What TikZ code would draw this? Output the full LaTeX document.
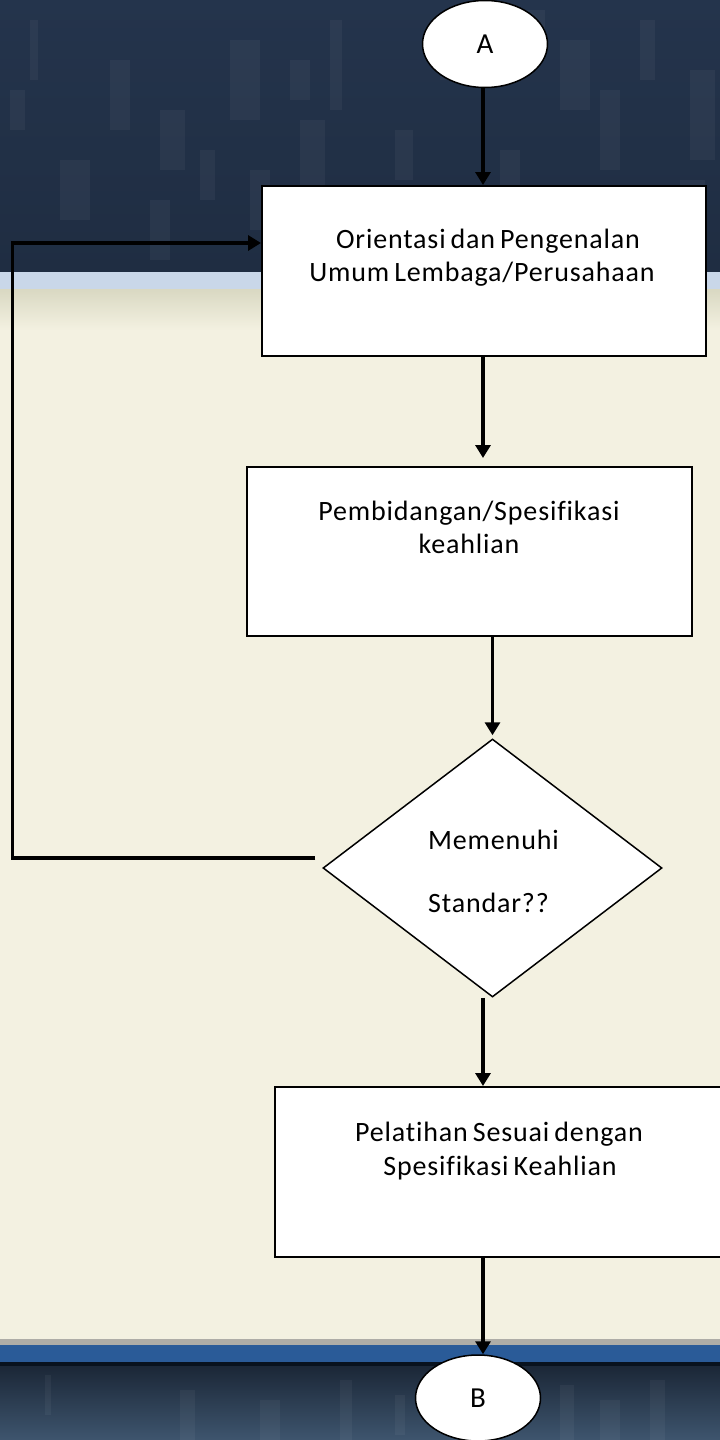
\documentclass[tikz,border=0pt]{standalone}
\usepackage{fontspec}
\setmainfont{Carlito}
\newfontfamily\boxfont{Carlito}[LetterSpace=3,WordSpace=0.7,Ligatures=NoCommon]
\usetikzlibrary{shapes.geometric,arrows.meta}
\definecolor{topdark}{HTML}{24344C}
\definecolor{topdark2}{HTML}{1F2D42}
\definecolor{stripe}{HTML}{C9D7E9}
\definecolor{beige}{HTML}{F3F1E1}
\definecolor{beigedark}{HTML}{D9D8C2}
\definecolor{barblue}{HTML}{2A5B98}
\definecolor{botdark}{HTML}{1B2737}
\definecolor{botlight}{HTML}{3E556E}
\tikzset{
  procbox/.style={draw=black, line width=2pt, fill=white, rectangle, inner sep=0pt},
  decbox/.style={draw=black, line width=1.5pt, fill=white, diamond, inner sep=0pt},
  connbox/.style={draw=black, line width=1.5pt, fill=white, ellipse, inner sep=0pt, font=\fontsize{29}{32}\selectfont},
  lbl/.style={anchor=base, inner sep=0pt, font=\boxfont\fontsize{28}{32}\selectfont},
  arr/.style={line width=3.5pt, -{Triangle[width=15pt,length=13pt]}},
  texture/.style={fill=white, opacity=0.045}
}
\begin{document}
\begin{tikzpicture}[x=1pt,y=-1pt]
\useasboundingbox (0,0) rectangle (720,1440);
\begin{scope}
\clip (0,0) rectangle (720,1440);
% top band
\fill[top color=topdark, bottom color=topdark2] (0,0) rectangle (720,272);
\foreach \x/\y/\w/\h in {30/20/8/60, 110/60/20/70, 160/110/25/60, 230/40/30/80, 290/60/20/40, 330/20/12/90, 395/130/18/50, 520/10/25/50, 560/40/30/70, 600/90/20/80, 640/20/15/60, 690/70/25/90, 60/160/30/60, 150/200/20/60, 200/150/15/50, 250/170/20/60, 300/120/25/90, 420/190/30/60, 500/150/20/40, 680/180/25/70, 10/90/15/40, 440/40/20/40}
  \fill[texture] (\x,\y) rectangle ++(\w,\h);
\fill[stripe] (0,272) rectangle (720,289);
% beige
\fill[top color=beigedark, bottom color=beige] (0,289) rectangle (720,330);
\fill[beige] (0,330) rectangle (720,1339);
% bottom band
\fill[gray!60!beige] (0,1339) rectangle (720,1345);
\fill[barblue] (0,1345) rectangle (720,1362);
\fill[black!80!barblue] (0,1362) rectangle (720,1366);
\fill[top color=botdark, bottom color=botlight] (0,1366) rectangle (720,1440);
\foreach \x/\y/\w/\h in {45/1375/6/40, 180/1390/15/50, 260/1400/20/40, 340/1380/12/60, 395/1395/10/40, 560/1385/14/55, 600/1400/20/40, 650/1380/15/60}
  \fill[texture] (\x,\y) rectangle ++(\w,\h);

% nodes
\node[connbox, minimum width=125pt, minimum height=87pt] (A) at (485,44) {A};
\node[procbox, minimum width=444pt, minimum height=170pt] (box1) at (484,271) {};
\node[procbox, minimum width=445pt, minimum height=169pt] (box2) at (469.5,551.5) {};
\node[decbox, minimum width=339pt, minimum height=258pt] (dia) at (492.5,868) {};
\node[procbox, minimum width=447pt, minimum height=170pt] (box3) at (498.5,1172) {};
\node[connbox, minimum width=125pt, minimum height=86pt] (B) at (478,1398) {B};

% labels
\node[lbl] (t1a) at (488,248) {Orientasi dan Pengenalan};
\node[lbl] (t1b) at (482,281) {Umum Lembaga/Perusahaan};
\node[lbl] (t2a) at (469,520) {Pembidangan/Spesifikasi};
\node[lbl] (t2b) at (469,553) {keahlian};
\node[lbl, anchor=base west] (t3a) at (428,849) {Memenuhi};
\node[lbl, anchor=base west] (t3b) at (428,912) {Standar??};
\node[lbl] (t4a) at (499,1141) {Pelatihan Sesuai dengan};
\node[lbl] (t4b) at (500,1175) {Spesifikasi Keahlian};

% connectors
\draw[arr] ([xshift=-2pt]A.south) -- ([xshift=-2pt]A.south |- box1.north);
\draw[arr, shorten >=8pt] ([xshift=-1pt]box1.south) -- ([xshift=-1pt]box1.south |- box2.north);
\draw[arr, shorten >=3pt] (dia.north |- box2.south) -- (dia.north);
\draw[arr] ([xshift=-9.5pt]dia.south) -- ([xshift=-9.5pt]dia.south |- box3.north);
\draw[arr] ([xshift=5pt]B.north |- box3.south) -- ([xshift=5pt]B.north);
\draw[arr] ([xshift=-7pt,yshift=10pt]dia.west) -- ++(-303,0) |- ([yshift=28pt]box1.west);
\end{scope}
\end{tikzpicture}
\end{document}
